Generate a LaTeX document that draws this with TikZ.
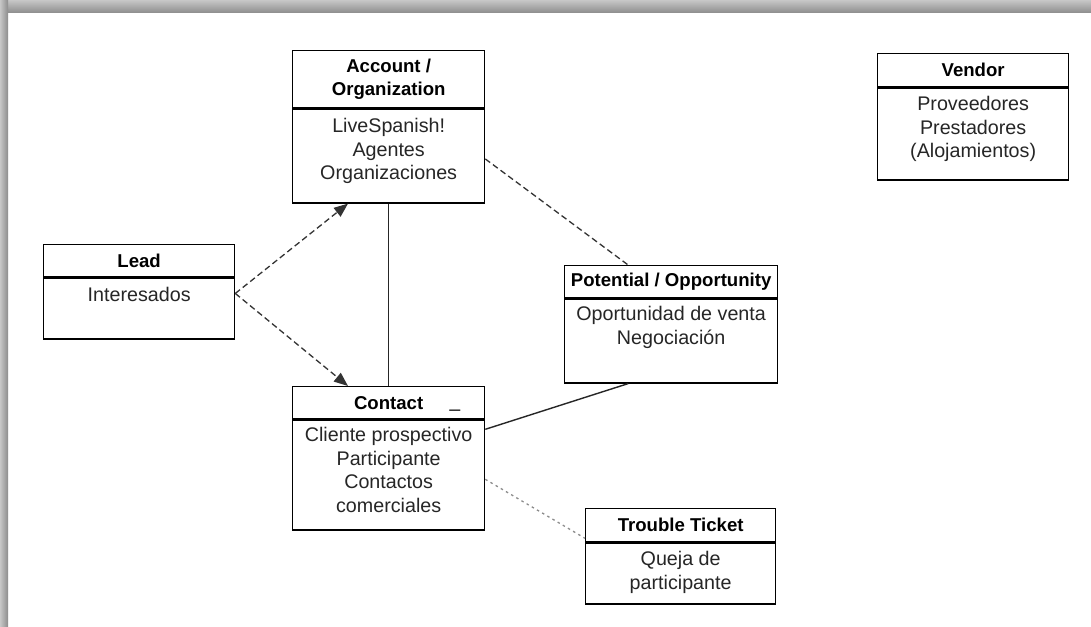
\documentclass[tikz,border=0pt]{standalone}
\usepackage{fontspec}
\setmainfont{Liberation Sans}
\usetikzlibrary{arrows.meta}
\begin{document}
\begin{tikzpicture}[x=1pt,y=-1pt,
  box/.style={draw=black, line width=1.3pt, inner sep=0pt, anchor=north west},
  hdr/.style={box, font=\fontsize{18.6}{23.5}\selectfont\bfseries, align=center},
  bodytext/.style={inner sep=0pt, anchor=north, align=center, font=\fontsize{19.7}{23.5}\selectfont, text=black!85},
  dashlink/.style={draw=black!80, line width=1.3pt, dash pattern=on 6pt off 3.5pt},
  solidlink/.style={draw=black!85, line width=1.4pt},
  dotlink/.style={draw=black!45, line width=1.3pt, dash pattern=on 2.5pt off 3.5pt},
  arr/.style={-{Triangle[length=14pt,width=11pt]}}
]
% page and its shadow edges
\useasboundingbox (0,0) rectangle (1091,626);
\fill[white] (0,0) rectangle (1091,626);
\shade[top color=black!22, bottom color=black!45] (0,0) rectangle (1091,13);
\shade[left color=black!22, right color=black!45] (0,0) rectangle (8,626);

% Account / Organization
\node[hdr, minimum width=192pt, minimum height=57pt] (acc-h) at (292,50) {Account /\\Organization};
\node[box, minimum width=192pt, minimum height=94pt] (acc) at (acc-h.south west) {};
\node[bodytext] (acc-t) at ([yshift=-10pt]acc.north) {LiveSpanish!\\Agentes\\Organizaciones};

% Vendor
\node[hdr, minimum width=191pt, minimum height=33pt] (ven-h) at (877,53) {Vendor};
\node[box, minimum width=191pt, minimum height=92pt] (ven) at (ven-h.south west) {};
\node[bodytext] (ven-t) at ([yshift=-9pt]ven.north) {Proveedores\\Prestadores\\(Alojamientos)};

% Lead
\node[hdr, minimum width=191pt, minimum height=32pt] (lead-h) at (43,244) {Lead};
\node[box, minimum width=191pt, minimum height=61pt] (lead) at (lead-h.south west) {};
\node[bodytext] (lead-t) at ([yshift=-10pt]lead.north) {Interesados};

% Potential / Opportunity
\node[hdr, minimum width=213pt, minimum height=32pt] (pot-h) at (564,265) {Potential / Opportunity};
\node[box, minimum width=213pt, minimum height=84pt] (pot) at (pot-h.south west) {};
\node[bodytext] (pot-t) at ([yshift=-8pt]pot.north) {Oportunidad de venta\\Negociación};

% Contact
\node[hdr, minimum width=192pt, minimum height=32pt] (con-h) at (292,386) {Contact};
\node[inner sep=0pt, anchor=base, font=\fontsize{19}{23}\selectfont] (con-u) at (455,407) {\_};
\node[box, minimum width=192pt, minimum height=110pt] (con) at (con-h.south west) {};
\node[bodytext] (con-t) at ([yshift=-8pt]con.north) {Cliente prospectivo\\Participante\\Contactos\\comerciales};

% Trouble Ticket
\node[hdr, minimum width=190pt, minimum height=33pt] (tt-h) at (585,508) {Trouble Ticket};
\node[box, minimum width=190pt, minimum height=61pt] (tt) at (tt-h.south west) {};
\node[bodytext] (tt-t) at ([yshift=-9pt]tt.north) {Queja de\\participante};

% connectors
\draw[dashlink, arr] ([yshift=15pt]lead.east) -- ([xshift=56pt]acc.south west);
\draw[dashlink, arr] ([yshift=15pt]lead.east) -- ([xshift=56pt]con-h.north west);
\draw[solidlink] (acc.south) -- (con-h.north);
\draw[dashlink] ([yshift=-3pt]acc.east) -- ([xshift=-43pt]pot-h.north);
\draw[solidlink] ([yshift=-10pt]con.north east) -- ([xshift=-43pt]pot.south);
\draw[dotlink] ([yshift=-60pt]con.north east) -- ([yshift=4pt]tt.north west);
\end{tikzpicture}
\end{document}
